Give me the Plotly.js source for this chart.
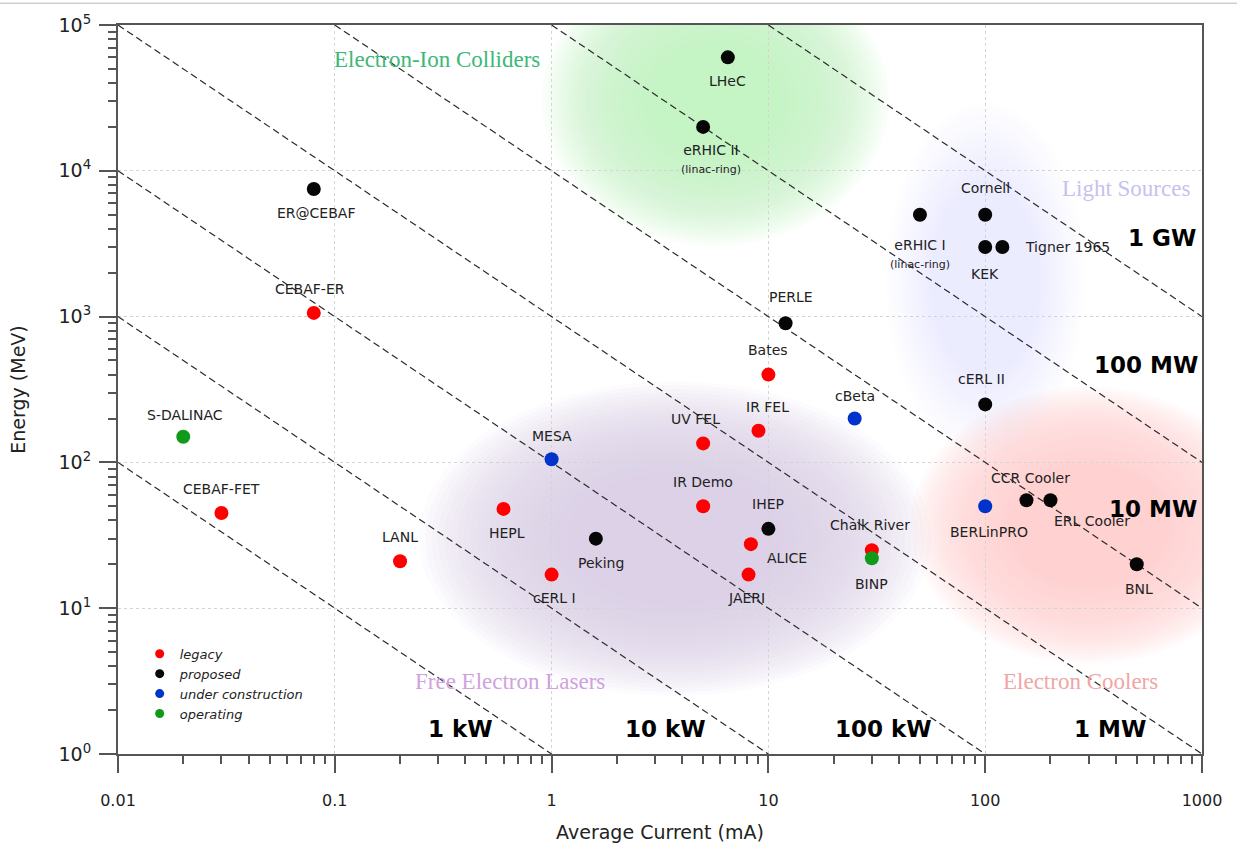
<!DOCTYPE html>
<html>
<head>
<meta charset="utf-8">
<script src="https://cdn.plot.ly/plotly-3.0.1.min.js"></script>
<style>
  html, body { margin: 0; padding: 0; background: #fff; }
  #chart { width: 1237px; height: 848px; }
</style>
</head>
<body>
<div id="chart"></div>
<script>
// ---------------- data ----------------
const names = ["ER@CEBAF","CEBAF-ER","S-DALINAC","CEBAF-FET","LANL","HEPL","MESA","cERL I","Peking",
  "UV FEL","IR Demo","IR FEL","Bates","IHEP","ALICE","JAERI","cBeta","Chalk River","BINP","PERLE",
  "LHeC","eRHIC II","eRHIC I","Cornell","KEK","Tigner 1965","cERL II","BERLinPRO","CCR Cooler","ERL Cooler","BNL"];
const current = [0.08, 0.08, 0.02, 0.03, 0.2, 0.6, 1, 1, 1.6,
  5, 5, 9, 10, 10, 8.3, 8.1, 25, 30, 30, 12,
  6.5, 5, 50, 100, 100, 120, 100, 100, 155, 200, 500];
const energy = [7500, 1060, 150, 45, 21, 48, 105, 17, 30,
  135, 50, 165, 400, 35, 27.5, 17, 200, 25, 22, 900,
  60000, 20000, 5000, 5000, 3000, 3000, 250, 50, 55, 55, 20];
const status = ["proposed","legacy","operating","legacy","legacy","legacy","under construction","legacy","proposed",
  "legacy","legacy","legacy","legacy","proposed","legacy","legacy","under construction","legacy","operating","proposed",
  "proposed","proposed","proposed","proposed","proposed","proposed","proposed","under construction","proposed","proposed","proposed"];
const statusCategories = ["legacy","proposed","under construction","operating"];
const powerKW = [1, 10, 100, 1000, 10000, 100000, 1000000];
const powerText = ["1 kW","10 kW","100 kW","1 MW","10 MW","100 MW","1 GW"];
const regionNames = ["Electron-Ion Colliders","Light Sources","Free Electron Lasers","Electron Coolers"];
const xTickVals = [0.01, 0.1, 1, 10, 100, 1000];
const xTickText = ["0.01","0.1","1","10","100","1000"];
const yTickVals = [1, 10, 100, 1000, 10000, 100000];
const yTickText = ["10<sup>0</sup>","10<sup>1</sup>","10<sup>2</sup>","10<sup>3</sup>","10<sup>4</sup>","10<sup>5</sup>"];

// ---------------- styles / layout helpers ----------------
const statusColors = {"legacy":"#ff0000","proposed":"#060606","under construction":"#0033cc","operating":"#0f9a1a"};
// label offsets in px [dx, dy(up)], anchor
const labelOffsets = {
  "ER@CEBAF":[2,-24],"CEBAF-ER":[-4,24],"S-DALINAC":[2,22],"CEBAF-FET":[0,24],"LANL":[0,24],
  "HEPL":[3,-24],"MESA":[0,23],"cERL I":[3,-23],"Peking":[5,-24],"UV FEL":[-8,24],"IR Demo":[0,24],
  "IR FEL":[9,24],"Bates":[0,25],"IHEP":[0,25],"ALICE":[36,-14],"JAERI":[-2,-23],"cBeta":[0,23],
  "Chalk River":[-2,25],"BINP":[0,-26],"PERLE":[5,26],"LHeC":[0,-24],"eRHIC II":[8,-32],
  "eRHIC I":[0,-39],"Cornell":[0,27],"KEK":[0,-27],"Tigner 1965":[21,0,"left"],"cERL II":[-4,25],
  "BERLinPRO":[4,-26],"CCR Cooler":[4,22],"ERL Cooler":[42,-21],"BNL":[2,-25]
};
const subLabels = {"eRHIC II":"(linac-ring)","eRHIC I":"(linac-ring)"};
const labelFont = {family:"DejaVu Sans, Verdana, sans-serif", size:14, color:"#222"};

const traces = [];

// power lines (P = E * I ; MeV * mA = kW), clipped to the plot box
const xmin = 0.01, xmax = 1000, ymin = 1, ymax = 100000;
powerKW.forEach(p => {
  const i0 = Math.max(xmin, p / ymax);
  const i1 = Math.min(xmax, p / ymin);
  traces.push({
    x:[i0, i1], y:[p / i0, p / i1], mode:"lines", type:"scatter",
    line:{color:"#2a2a2a", width:1.2, dash:"7px,4px"},
    hoverinfo:"skip", showlegend:false
  });
});

// data points per status
statusCategories.forEach(cat => {
  const idx = names.map((n,i)=>i).filter(i => status[i] === cat);
  traces.push({
    x: idx.map(i=>current[i]), y: idx.map(i=>energy[i]), text: idx.map(i=>names[i]),
    type:"scatter", mode:"markers", name:cat, showlegend:false,
    marker:{size:14, color:statusColors[cat], line:{width:0}},
    hovertemplate:"%{text}<br>%{x} mA, %{y} MeV<extra></extra>"
  });
});
// legend entries
statusCategories.forEach(cat => {
  traces.push({
    x:[null], y:[null], type:"scatter", mode:"markers", name:cat, showlegend:true,
    marker:{size:9, color:statusColors[cat]}
  });
});

// background blobs: concentric ellipses (data units, radii in decades)
const blobs = [
  {cx:3.7,  cy:30,    rx:1.18, ry:1.08, rgb:[226,204,236], a:0.085},
  {cx:100,  cy:1800,  rx:0.46, ry:1.22, rgb:[228,226,250], a:0.05},
  {cx:5.7,  cy:30600, rx:0.80, ry:1.00, rgb:[200,249,194], a:0.085},
  {cx:300,  cy:37,    rx:0.82, ry:0.95, rgb:[255,206,206], a:0.085}
];
const shapes = [];
const N = 40;
blobs.forEach(b => {
  for (let k = N; k >= 1; k--) {
    const f = k / N;
    const rx = b.rx * f, ry = b.ry * f;
    shapes.push({
      type:"circle", xref:"x", yref:"y", layer:"below",
      x0: b.cx / Math.pow(10, rx), x1: b.cx * Math.pow(10, rx),
      y0: b.cy / Math.pow(10, ry), y1: b.cy * Math.pow(10, ry),
      line:{width:0}, fillcolor:`rgba(${b.rgb[0]},${b.rgb[1]},${b.rgb[2]},${b.a})`
    });
  }
});
// thin top border line of the picture
shapes.push({type:"line", xref:"paper", yref:"paper", x0:-0.109, x1:1.033, y0:1.03, y1:1.03,
  line:{color:"#d0d0d0", width:1.5}});

const annotations = [];
names.forEach((n,i) => {
  const o = labelOffsets[n] || [0,-24];
  let txt = n;
  if (subLabels[n]) txt = n + '<br><span style="font-size:11px">' + subLabels[n] + '</span>';
  annotations.push({
    x: Math.log10(current[i]), y: Math.log10(energy[i]), xref:"x", yref:"y",
    text: txt, showarrow:false, xshift:o[0], yshift:o[1],
    xanchor: o[2] || "center", yanchor:"middle", font: labelFont
  });
});

// region labels (paper coordinates)
const regionPos = [[0.294,0.953,"#3cb878"],[0.930,0.776,"#c4c2ee"],[0.362,0.099,"#cfa2de"],[0.888,0.099,"#f0a6a6"]];
regionNames.forEach((r,i) => {
  annotations.push({x:regionPos[i][0], y:regionPos[i][1], xref:"paper", yref:"paper", text:r,
    showarrow:false, xanchor:"center", yanchor:"middle",
    font:{family:"Liberation Serif, Times New Roman, serif", size:23, color:regionPos[i][2]}});
});

// power labels
const powerPos = [[0.316,0.034],[0.5055,0.034],[0.706,0.034],[0.915,0.034],[0.955,0.336],[0.948,0.534],[0.963,0.708]];
powerText.forEach((t,i) => {
  annotations.push({x:powerPos[i][0], y:powerPos[i][1], xref:"paper", yref:"paper", text:"<b>"+t+"</b>",
    showarrow:false, xanchor:"center", yanchor:"middle",
    font:{family:"DejaVu Sans, Verdana, sans-serif", size:23, color:"#000"}});
});

const axisCommon = {
  type:"log", showline:true, linecolor:"#555", linewidth:2, mirror:true,
  showgrid:true, gridcolor:"#d4d4d4", griddash:"dot", gridwidth:1,
  ticks:"outside", ticklen:17, tickwidth:1.5, tickcolor:"#555",
  tickfont:{family:"DejaVu Sans, Verdana, sans-serif", size:16, color:"#222"},
  minor:{dtick:"D1", ticks:"outside", ticklen:8, tickwidth:1.5, tickcolor:"#555", showgrid:false},
  zeroline:false, automargin:false
};

const layout = {
  width:1237, height:848,
  margin:{l:118, r:35, t:25, b:94},
  paper_bgcolor:"#fff", plot_bgcolor:"#fff",
  xaxis: Object.assign({}, axisCommon, {
    range:[Math.log10(xmin), Math.log10(xmax)], tickvals:xTickVals, ticktext:xTickText,
    ticklabelstandoff:14,
    title:{text:"Average Current (mA)", standoff:16,
      font:{family:"DejaVu Sans, Verdana, sans-serif", size:19, color:"#222"}}
  }),
  yaxis: Object.assign({}, axisCommon, {
    range:[Math.log10(ymin), Math.log10(ymax)], tickvals:yTickVals, ticktext:yTickText,
    ticklabelstandoff:4,
    tickfont:{family:"DejaVu Sans, Verdana, sans-serif", size:19, color:"#222"},
    title:{text:"Energy (MeV)", standoff:28,
      font:{family:"DejaVu Sans, Verdana, sans-serif", size:19, color:"#222"}}
  }),
  legend:{x:0.02, y:0.158, xanchor:"left", yanchor:"top", bgcolor:"rgba(0,0,0,0)",
    font:{family:"DejaVu Sans, Verdana, sans-serif", size:13, color:"#222", style:"italic"},
    itemsizing:"trace", tracegroupgap:0},
  shapes: shapes,
  annotations: annotations,
  showlegend:true,
  hovermode:"closest"
};

Plotly.newPlot("chart", traces, layout, {displayModeBar:false, staticPlot:false});
</script>
</body>
</html>
